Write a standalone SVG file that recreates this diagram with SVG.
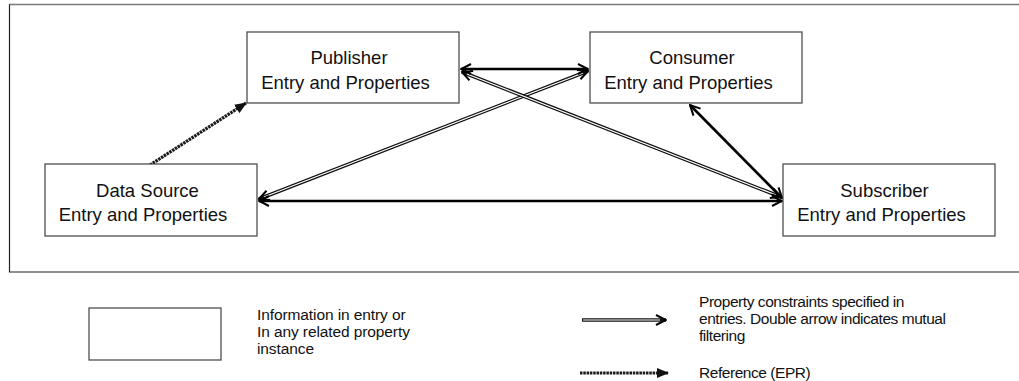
<svg xmlns="http://www.w3.org/2000/svg" width="1019" height="381" viewBox="0 0 1019 381">
  <style>
    .box { fill: #ffffff; stroke: #404040; stroke-width: 1.2; }
    .label { font-family: "Liberation Sans", Arial, sans-serif; font-size: 18.5px; fill: #111; text-anchor: middle; }
    .legend { font-family: "Liberation Sans", Arial, sans-serif; font-size: 15.5px; fill: #111; letter-spacing: -0.1px; }
    .legend.tight { letter-spacing: -0.45px; }
    .solid { fill: none; stroke: #000; stroke-width: 2.6; }
    .hollow-outer { fill: none; stroke: #111; stroke-width: 3.6; }
    .hollow-inner { fill: none; stroke: #fff; stroke-width: 1.2; }
    .ref { fill: none; stroke: #1a1a1a; stroke-width: 3.2; stroke-dasharray: 2.5 0.8; }
  </style>
  <defs>
    <marker id="open" viewBox="0 0 12 12" refX="11" refY="6" markerWidth="12" markerHeight="12" markerUnits="userSpaceOnUse" orient="auto-start-reverse">
      <path d="M1,1 L11,6 L1,11" fill="none" stroke="#000" stroke-width="2"/>
    </marker>
    <marker id="filled" viewBox="0 0 12 10" refX="11" refY="5" markerWidth="12" markerHeight="10" markerUnits="userSpaceOnUse" orient="auto">
      <path d="M0,0 L12,5 L0,10 Z" fill="#111"/>
    </marker>
  </defs>

  <!-- outer frame (open on the right side) -->
  <path d="M1030,4.5 H9.5 V272 H1030" fill="none" stroke="#222" stroke-width="1.2"/>
  <line x1="9.5" y1="4.5" x2="1030" y2="4.5" stroke="#777" stroke-width="1.4"/>

  <!-- connectors -->
  <g id="connectors">
    <!-- Consumer <-> Data Source (property constraints) -->
    <line class="hollow-outer" x1="588" y1="71" x2="259" y2="199" marker-start="url(#open)" marker-end="url(#open)"/>
    <line class="hollow-inner" x1="583" y1="73" x2="264" y2="197"/>
    <!-- Publisher <-> Subscriber (property constraints) -->
    <line class="hollow-outer" x1="462" y1="72" x2="781" y2="197" marker-start="url(#open)" marker-end="url(#open)"/>
    <line class="hollow-inner" x1="467" y1="74" x2="776" y2="195"/>
    <!-- Publisher <-> Consumer -->
    <line class="solid" x1="461" y1="69" x2="588" y2="69" marker-start="url(#open)" marker-end="url(#open)"/>
    <!-- Consumer <-> Subscriber -->
    <line class="solid" x1="690" y1="105" x2="782" y2="198" marker-start="url(#open)" marker-end="url(#open)"/>
    <!-- Data Source <-> Subscriber -->
    <line class="solid" x1="259" y1="201" x2="782" y2="201" marker-start="url(#open)" marker-end="url(#open)"/>
    <!-- Data Source -> Publisher (reference) -->
    <line class="ref" x1="150" y1="165" x2="246" y2="103" marker-end="url(#filled)"/>
  </g>

  <g id="publisher">
    <rect class="box" x="247" y="32" width="212" height="71"/>
    <text class="label" x="349" y="64">Publisher</text>
    <text class="label" x="345.5" y="88.5">Entry and Properties</text>
  </g>

  <g id="consumer">
    <rect class="box" x="590" y="32" width="212" height="71"/>
    <text class="label" x="692" y="64">Consumer</text>
    <text class="label" x="688.5" y="88.5">Entry and Properties</text>
  </g>

  <g id="data-source">
    <rect class="box" x="45" y="164" width="212" height="72"/>
    <text class="label" x="147.5" y="196.5">Data Source</text>
    <text class="label" x="143" y="221">Entry and Properties</text>
  </g>

  <g id="subscriber">
    <rect class="box" x="783" y="164" width="212" height="72"/>
    <text class="label" x="884.5" y="196.5">Subscriber</text>
    <text class="label" x="881.5" y="221">Entry and Properties</text>
  </g>

  <!-- legend -->
  <g id="legend-entry">
    <rect class="box" x="89" y="308" width="132" height="52"/>
    <text class="legend" x="257" y="320">Information in entry or</text>
    <text class="legend" x="257" y="337">In any related property</text>
    <text class="legend" x="257" y="354">instance</text>
  </g>

  <g id="legend-constraint">
    <line class="hollow-outer" x1="582" y1="320" x2="666" y2="320" marker-end="url(#open)"/>
    <line class="hollow-inner" x1="583" y1="320" x2="660" y2="320"/>
    <text class="legend tight" x="699" y="307">Property constraints specified in</text>
    <text class="legend tight" x="699" y="324">entries. Double arrow indicates mutual</text>
    <text class="legend tight" x="699" y="341">filtering</text>
  </g>

  <g id="legend-reference">
    <line class="ref" x1="580" y1="373" x2="668" y2="373" marker-end="url(#filled)"/>
    <text class="legend tight" x="699" y="378">Reference (EPR)</text>
  </g>
</svg>
